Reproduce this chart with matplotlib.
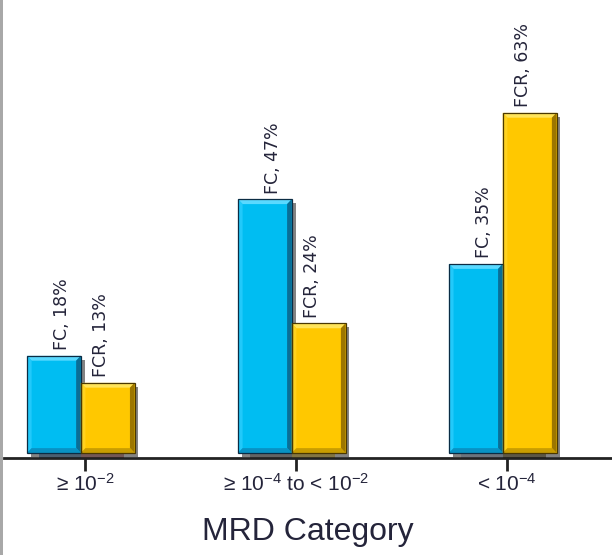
import matplotlib
matplotlib.use("Agg")
import matplotlib.pyplot as plt
from matplotlib.patches import Polygon, Rectangle
from matplotlib import font_manager

# ---- data -------------------------------------------------------------
categories = [r"≥ 10$^{-2}$", r"≥ 10$^{-4}$ to < 10$^{-2}$", r"< 10$^{-4}$"]
fc_values = [18, 47, 35]
fcr_values = [13, 24, 63]
fc_name = "FC"
fcr_name = "FCR"
x_title = "MRD Category"

# ---- styling ----------------------------------------------------------
names = {f.name for f in font_manager.fontManager.ttflist}
narrow = "Liberation Sans Narrow" if "Liberation Sans Narrow" in names else "Liberation Sans"
plt.rcParams["mathtext.fontset"] = "custom"
plt.rcParams["mathtext.rm"] = narrow
plt.rcParams["mathtext.it"] = narrow
plt.rcParams["mathtext.bf"] = narrow

text_color = "#24243a"
blue = dict(face="#00BDF2", top="#5AD9FF", left="#22C9FA", right="#0A6E96",
            bottom="#0892C4", edge="#0B2C44")
gold = dict(face="#FFC800", top="#FFE45A", left="#FFD21E", right="#9C7600",
            bottom="#C99D00", edge="#4A3800")
base_fc = ["#1F6FB2", "#7F7F7F", "#A3BDE3"]
base_fcr = ["#C0504D", "#FFC800", "#5E4C12"]

W, H = 612, 555
fig = plt.figure(figsize=(W / 100, H / 100), dpi=100)
fig.patch.set_facecolor("white")
fig.add_artist(Rectangle((0, 0), 3 / W, 1, transform=fig.transFigure,
                         facecolor="#A8A8A8", edgecolor="none"))

ax = fig.add_axes([4 / W, (H - 458) / H, (W - 4) / W, 458 / H])
ax.set_xlim(-0.384, 2.498)
ax.set_ylim(-0.93, 83.9)

bar_w = 0.255
shift = -0.02
dx, dy = 0.022, 0.9       # bevel size in data units
sdx, sdy = 0.018, 0.75    # drop-shadow offset


def bevel_bar(x_left, value, st):
    L, R, B, T = x_left, x_left + bar_w, 0.0, value
    ax.add_patch(Rectangle((L + sdx, B - sdy), bar_w, value, facecolor="#5a5a5a",
                           edgecolor="none", alpha=0.75, zorder=2))
    ax.add_patch(Rectangle((L, B), bar_w, value, facecolor=st["face"],
                           edgecolor="none", zorder=3))
    faces = [
        ([(L, T), (R, T), (R - dx, T - dy), (L + dx, T - dy)], st["top"]),
        ([(L, T), (L + dx, T - dy), (L + dx, B + dy), (L, B)], st["left"]),
        ([(R, T), (R, B), (R - dx, B + dy), (R - dx, T - dy)], st["right"]),
        ([(L, B), (R, B), (R - dx, B + dy), (L + dx, B + dy)], st["bottom"]),
    ]
    for pts, c in faces:
        ax.add_patch(Polygon(pts, closed=True, facecolor=c, edgecolor="none", zorder=4))
    ax.add_patch(Rectangle((L, B), bar_w, value, facecolor="none",
                           edgecolor=st["edge"], linewidth=0.9, zorder=5))


for i, (fc, fcr) in enumerate(zip(fc_values, fcr_values)):
    fc_left = i + shift - bar_w
    fcr_left = i + shift

    # coloured floor strips below the bars
    ax.add_patch(Rectangle((fc_left + 0.055, -0.93), bar_w - 0.055, 0.93,
                           facecolor=base_fc[i], edgecolor="none", zorder=1))
    ax.add_patch(Rectangle((fcr_left, -0.93), bar_w - 0.05, 0.93,
                           facecolor=base_fcr[i], edgecolor="none", zorder=1))

    bevel_bar(fc_left, fc, blue)
    bevel_bar(fcr_left, fcr, gold)

    ax.annotate(f"{fc_name}, {fc}%", xy=(fc_left + bar_w / 2 + 0.04, fc),
                xytext=(0, 4), textcoords="offset points", rotation=90,
                ha="center", va="bottom", fontsize=12.5, color=text_color,
                family="DejaVu Sans", zorder=6)
    ax.annotate(f"{fcr_name}, {fcr}%", xy=(fcr_left + bar_w / 2 - 0.03, fcr),
                xytext=(0, 4), textcoords="offset points", rotation=90,
                ha="center", va="bottom", fontsize=12.5, color=text_color,
                family="DejaVu Sans", zorder=6)

# ---- axes -------------------------------------------------------------
for s in ("top", "right", "left"):
    ax.spines[s].set_visible(False)
ax.spines["bottom"].set_linewidth(2)
ax.spines["bottom"].set_color("#222222")
ax.set_yticks([])
ax.set_xticks(range(len(categories)))
ax.set_xticklabels(categories, family=narrow, fontsize=15, color=text_color)
ax.tick_params(axis="x", direction="out", length=9, width=2, color="#222222", pad=2)
ax.set_xlabel(x_title, family=narrow, fontsize=23, color=text_color, labelpad=16)
ax.set_facecolor("white")

fig.savefig("out.png", dpi=100)
